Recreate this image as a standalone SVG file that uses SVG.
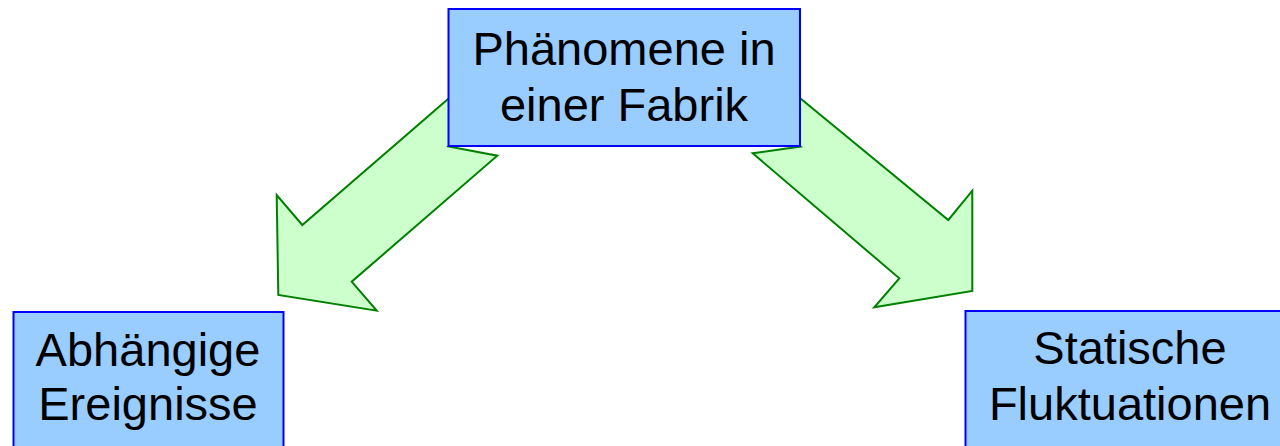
<svg xmlns="http://www.w3.org/2000/svg" width="1280" height="446" viewBox="0 0 1280 446">
  <style>
    .box { fill: #99CCFF; stroke: #0000FF; stroke-width: 2; }
    .arrow { fill: #CCFFCC; stroke: #008000; stroke-width: 2; stroke-linejoin: miter; }
    .label { font-family: "Liberation Sans", Arial, sans-serif; font-size: 47px; fill: #000000; text-anchor: middle; }
  </style>
  <rect width="1280" height="446" fill="#FFFFFF"/>

  <!-- block arrows, drawn first so the boxes cover their tails -->
  <g id="connectors">
    <polygon class="arrow" points="470,80 302.3,225 276.7,195 278.3,295 376.7,310.7 351.7,281.7 497.3,155.7 448.5,146.5 470,130"/>
    <polygon class="arrow" points="778,80 948.3,220 972.3,190.7 972.3,291 874.3,307.3 899.3,278.3 752.7,153.3 800.5,146.5 778,130"/>
  </g>

  <g id="node-phaenomene">
    <rect class="box" x="448.5" y="9" width="351.5" height="137"/>
    <text class="label" x="624" y="65">Phänomene in</text>
    <text class="label" x="624" y="121">einer Fabrik</text>
  </g>

  <g id="node-abhaengige">
    <rect class="box" x="13.5" y="312" width="270" height="150"/>
    <text class="label" x="148" y="366">Abhängige</text>
    <text class="label" x="148" y="420">Ereignisse</text>
  </g>

  <g id="node-statische">
    <rect class="box" x="965.5" y="311" width="330" height="150"/>
    <text class="label" x="1130" y="364">Statische</text>
    <text class="label" x="1130" y="420">Fluktuationen</text>
  </g>
</svg>
